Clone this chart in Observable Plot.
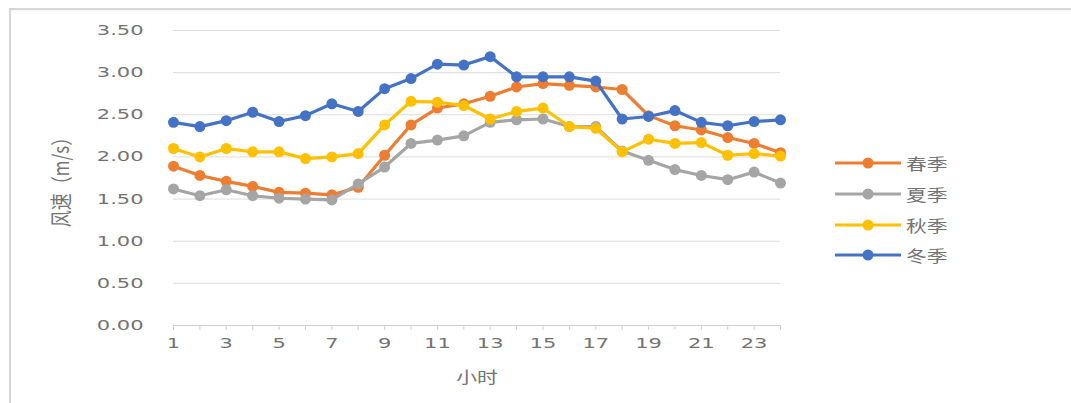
<!DOCTYPE html>
<html>
<head>
<meta charset="utf-8">
<script src="https://cdn.jsdelivr.net/npm/d3@7"></script>
<script src="https://cdn.jsdelivr.net/npm/@observablehq/plot@0.6"></script>
<style>
  html, body { margin: 0; padding: 0; background: #fff; }
  #wrap { position: relative; width: 1071px; height: 403px; overflow: hidden; }
  #frame { position: absolute; left: 9px; top: 8px; right: -4px; bottom: -4px;
           border-top: 2px solid #d6d6d6; border-left: 2px solid #d6d6d6;
           box-shadow: inset 0 3px 4px -2px rgba(0,0,0,0.06); pointer-events: none; }
  #legend { position: absolute; left: 835px; top: 148px; font-family: "Noto Sans CJK SC", sans-serif;
            font-size: 16px; color: #737373; }
  #legend .row { height: 30.7px; display: flex; align-items: center; }
  #legend .row span { display: inline-block; margin-left: 5px; transform: scaleX(1.3); transform-origin: left center; }
</style>
</head>
<body>
<div id="wrap">
  <div id="chart"></div>
  <div id="legend"></div>
  <div id="frame"></div>
</div>
<script>
// Hourly mean wind speed (m/s) by season
const hours = [1, 2, 3, 4, 5, 6, 7, 8, 9, 10, 11, 12, 13, 14, 15, 16, 17, 18, 19, 20, 21, 22, 23, 24];
const seasons = ["春季", "夏季", "秋季", "冬季"];
const seasonColors = ["#ED7D31", "#A5A5A5", "#FFC000", "#4472C4"];

const springSpeed = [1.89, 1.78, 1.71, 1.65, 1.58, 1.57, 1.55, 1.64, 2.02, 2.38, 2.58, 2.63, 2.72, 2.83, 2.87, 2.85, 2.83, 2.80, 2.49, 2.37, 2.32, 2.23, 2.16, 2.05];
const summerSpeed = [1.62, 1.54, 1.61, 1.54, 1.51, 1.50, 1.49, 1.68, 1.88, 2.16, 2.20, 2.25, 2.41, 2.44, 2.45, 2.36, 2.36, 2.07, 1.96, 1.85, 1.78, 1.73, 1.82, 1.69];
const autumnSpeed = [2.10, 2.00, 2.10, 2.06, 2.06, 1.98, 2.00, 2.04, 2.38, 2.66, 2.65, 2.61, 2.45, 2.54, 2.58, 2.36, 2.34, 2.06, 2.21, 2.16, 2.17, 2.02, 2.04, 2.01];
const winterSpeed = [2.41, 2.36, 2.43, 2.53, 2.42, 2.49, 2.63, 2.54, 2.81, 2.93, 3.10, 3.09, 3.19, 2.95, 2.95, 2.95, 2.90, 2.45, 2.48, 2.55, 2.41, 2.37, 2.42, 2.44];

const yTicks = [0, 0.5, 1, 1.5, 2, 2.5, 3, 3.5];
const xLabel = "小时";
const yLabel = "风速（m/s）";

const seriesValues = [springSpeed, summerSpeed, autumnSpeed, winterSpeed];
const rows = seasons.flatMap((season, i) =>
  hours.map((hour, j) => ({season, hour, speed: seriesValues[i][j]})));

const numFont = "'DejaVu Sans', sans-serif";
const textColor = "#737373";
const lightLine = "#dcdcdc";

// one line + its markers per season, so later seasons sit on top
const seriesMarks = seasons.flatMap(season => {
  const d = rows.filter(r => r.season === season);
  return [
    Plot.line(d, {x: "hour", y: "speed", stroke: "season", strokeWidth: 3.2}),
    Plot.dot(d, {x: "hour", y: "speed", fill: "season", r: 5.5})
  ];
});

const chart = Plot.plot({
  width: 1071,
  height: 403,
  marginLeft: 173,
  marginRight: 291,
  marginTop: 30,
  marginBottom: 78,
  style: {fontFamily: numFont, color: textColor, background: "transparent"},
  x: {domain: [1, 24]},
  y: {domain: [0, 3.5]},
  color: {domain: seasons, range: seasonColors},
  marks: [
    Plot.gridY(yTicks, {stroke: lightLine, strokeOpacity: 1, strokeWidth: 1}),
    Plot.axisY(yTicks, {
      tickSize: 0, tickPadding: 30, fontSize: 14,
      tickFormat: d => d.toFixed(2),
      label: yLabel, labelAnchor: "center", labelArrow: "none", labelOffset: 120
    }),
    Plot.ruleY([0], {stroke: "#d0d0d0", strokeWidth: 1.2}),
    Plot.axisX(hours, {
      tickSize: 5, tickPadding: 8, fontSize: 14, stroke: "#d0d0d0",
      tickFormat: d => (d % 2 === 1 ? String(d) : ""),
      label: xLabel, labelAnchor: "center", labelArrow: "none", labelOffset: 57
    }),
    ...seriesMarks
  ]
});

document.getElementById("chart").appendChild(chart);

// widen the glyphs of the axis text, keeping each anchor point in place
function widen(text, sx, sy) {
  let tr = text.getAttribute("transform");
  if (!tr) {
    const x = text.getAttribute("x") || 0, y = text.getAttribute("y") || 0;
    text.removeAttribute("x"); text.removeAttribute("y");
    tr = `translate(${x},${y})`;
  }
  text.setAttribute("transform", `${tr} scale(${sx},${sy})`);
}
chart.querySelectorAll('g[aria-label$="tick label"] text').forEach(t => widen(t, 1.5, 1));
chart.querySelectorAll('g[aria-label="x-axis label"] text').forEach(t => {
  t.setAttribute("font-family", "'Noto Sans CJK SC', sans-serif");
  t.setAttribute("font-size", 16);
  widen(t, 1.3, 1);
});
chart.querySelectorAll('g[aria-label="y-axis label"] text').forEach(t => {
  t.setAttribute("font-family", "'Noto Sans CJK SC', sans-serif");
  t.setAttribute("font-size", 17);
  widen(t, 1, 1.3);
});

// legend: line-with-marker swatch followed by the season name
const legend = d3.select("#legend");
seasons.forEach((season, i) => {
  const row = legend.append("div").attr("class", "row");
  const sw = row.append("svg").attr("width", 66).attr("height", 14);
  sw.append("line").attr("x1", 0).attr("x2", 66).attr("y1", 7).attr("y2", 7)
    .attr("stroke", seasonColors[i]).attr("stroke-width", 3);
  sw.append("circle").attr("cx", 33).attr("cy", 7).attr("r", 5.5).attr("fill", seasonColors[i]);
  row.append("span").text(season);
});
</script>
</body>
</html>
